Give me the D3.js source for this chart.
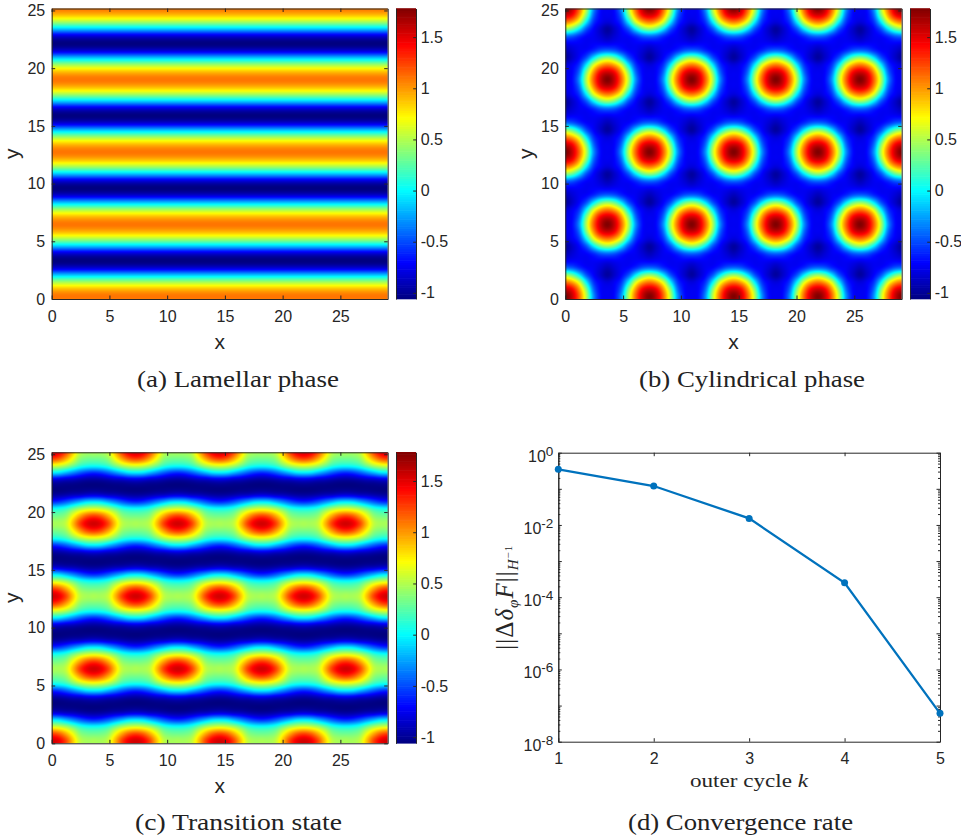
<!DOCTYPE html>
<html>
<head>
<meta charset="utf-8">
<script src="https://cdn.jsdelivr.net/npm/d3@7"></script>
<style>
  html, body { margin: 0; padding: 0; background: #fff; }
  svg { display: block; }
  .tick text { font-family: "Liberation Sans", Arial, sans-serif; font-size: 16px; fill: #262626; }
  .tick line, .domain { stroke: #262626; }
  .axisLabel { font-family: "Liberation Sans", Arial, sans-serif; font-size: 21px; fill: #262626; text-anchor: middle; }
  .mathLabel { font-family: "Liberation Serif", serif; fill: #262626; text-anchor: middle; }
  .caption { font-family: "Liberation Serif", serif; font-size: 23px; fill: #222; text-anchor: middle; }
</style>
</head>
<body>
<div id="chart"></div>
<script>
// Field values, one mirrored cell of the periodic pattern.
// Rows run y = 0 .. 6.28, columns x = 0 .. 3.64, the rest of the panel repeats it.
const lamellarValues = [1.10, 0.92, 0.48, -0.15, -0.82, -1.06, -0.82, -0.15, 0.48, 0.92, 1.10]

const cylindricalValues = [
  [1.78, 1.58, 1.14, 0.51, -0.28, -0.68, -0.74],
  [1.57, 1.44, 1.00, 0.37, -0.39, -0.70, -0.74],
  [1.10, 0.97, 0.61, -0.02, -0.55, -0.73, -0.80],
  [0.43, 0.30, -0.05, -0.47, -0.70, -0.85, -0.97],
  [-0.40, -0.45, -0.59, -0.70, -0.74, -0.82, -0.90],
  [-0.74, -0.72, -0.72, -0.74, -0.72, -0.72, -0.74],
  [-0.90, -0.82, -0.74, -0.70, -0.59, -0.45, -0.40],
  [-0.97, -0.85, -0.70, -0.47, -0.05, 0.30, 0.43],
  [-0.80, -0.73, -0.55, -0.02, 0.61, 0.97, 1.10],
  [-0.74, -0.70, -0.39, 0.37, 1.00, 1.44, 1.57],
  [-0.74, -0.68, -0.28, 0.51, 1.14, 1.58, 1.78]
]

const transitionValues = [
  [1.55, 1.48, 1.25, 0.88, 0.55, 0.47, 0.48],
  [1.28, 1.20, 0.98, 0.70, 0.42, 0.34, 0.33],
  [0.64, 0.60, 0.50, 0.33, 0.15, 0.07, 0.05],
  [-0.05, -0.08, -0.20, -0.33, -0.46, -0.56, -0.60],
  [-0.82, -0.84, -0.88, -0.90, -0.94, -0.97, -0.98],
  [-1.05, -1.05, -1.05, -1.05, -1.05, -1.05, -1.05],
  [-0.98, -0.97, -0.94, -0.90, -0.88, -0.84, -0.82],
  [-0.60, -0.56, -0.46, -0.33, -0.20, -0.08, -0.05],
  [0.05, 0.07, 0.15, 0.33, 0.50, 0.60, 0.64],
  [0.33, 0.34, 0.42, 0.70, 0.98, 1.20, 1.28],
  [0.48, 0.47, 0.55, 0.88, 1.25, 1.48, 1.55]
]

const xTicks = [0, 5, 10, 15, 20, 25]
const yTicks = [0, 5, 10, 15, 20, 25]
const colorTicks = [-1, -0.5, 0, 0.5, 1, 1.5]
const colorLimits = [-1.06, 1.78]

// Convergence panel
const outerCycles = [1, 2, 3, 4, 5]
const residuals = [0.346, 0.1195, 0.0152, 2.5e-4, 6.1e-8]
const residualExponents = [0, -2, -4, -6, -8]

const captions = ['(a) Lamellar phase', '(b) Cylindrical phase', '(c) Transition state', '(d) Convergence rate']

// MATLAB jet
const jetStops = [0, 1 / 8, 3 / 8, 5 / 8, 7 / 8, 1]
const jetColors = ['#000080', '#0000ff', '#00ffff', '#ffff00', '#ff0000', '#800000']

const xMax = 29.1
const yMax = 25.17
const cellHalfY = 6.283
const rowPhase = 0.15

const width = 961
const height = 840

const svg = d3.select('#chart').append('svg').attr('width', width).attr('height', height)

const jet = d3.scaleLinear()
  .domain(jetStops.map(s => colorLimits[0] + s * (colorLimits[1] - colorLimits[0])))
  .range(jetColors)
  .clamp(true)

// Folds a coordinate back into the mirrored cell
const fold = (v, half) => {
  const m = ((v % (2 * half)) + 2 * half) % (2 * half)
  return m <= half ? m : 2 * half - m
}

const catmull = (a, b, c, d, t) =>
  b + 0.5 * t * (c - a + t * (2 * a - 5 * b + 4 * c - d + t * (3 * (b - c) + d - a)))

// Same job as shading interp: smooth between the stored samples
const sampleCell = (cell, x, y) => {
  const rows = cell.length - 1
  const cols = cell[0].length - 1
  const gx = fold(x, xMax / 8) / (xMax / 8) * cols
  const gy = fold(y - rowPhase, cellHalfY) / cellHalfY * rows
  const ix = Math.min(Math.floor(gx), cols - 1)
  const iy = Math.min(Math.floor(gy), rows - 1)
  const mirror = (i, n) => (i < 0 ? -i : i > n ? 2 * n - i : i)
  const column = j => {
    const row = cell[mirror(j, rows)]
    return catmull(row[mirror(ix - 1, cols)], row[ix], row[ix + 1], row[mirror(ix + 2, cols)], gx - ix)
  }
  return catmull(column(iy - 1), column(iy), column(iy + 1), column(iy + 2), gy - iy)
}

const insideTick = 3.5

function drawField (box, cell, bar) {
  const x = d3.scaleLinear().domain([0, xMax]).range([box.left, box.right])
  const y = d3.scaleLinear().domain([0, yMax]).range([box.bottom, box.top])
  const w = Math.round(box.right - box.left)
  const h = Math.round(box.bottom - box.top)

  const canvas = document.createElement('canvas')
  canvas.width = w
  canvas.height = h
  const ctx = canvas.getContext('2d')
  const image = ctx.createImageData(w, h)
  for (let j = 0; j < h; j++) {
    for (let i = 0; i < w; i++) {
      const c = d3.rgb(jet(sampleCell(cell, x.invert(box.left + i + 0.5), y.invert(box.top + j + 0.5))))
      const p = (j * w + i) * 4
      image.data[p] = c.r
      image.data[p + 1] = c.g
      image.data[p + 2] = c.b
      image.data[p + 3] = 255
    }
  }
  ctx.putImageData(image, 0, 0)
  svg.append('image')
    .attr('x', box.left).attr('y', box.top)
    .attr('width', box.right - box.left).attr('height', box.bottom - box.top)
    .attr('preserveAspectRatio', 'none')
    .attr('href', canvas.toDataURL())

  const g = svg.append('g')
  g.append('g').attr('transform', `translate(0,${box.bottom})`)
    .call(d3.axisBottom(x).tickValues(xTicks).tickFormat(d3.format('d')).tickSize(-insideTick).tickSizeOuter(0).tickPadding(11.3))
  g.append('g').attr('transform', `translate(${box.left},0)`)
    .call(d3.axisLeft(y).tickValues(yTicks).tickFormat(d3.format('d')).tickSize(-insideTick).tickSizeOuter(0).tickPadding(6.5))
  g.append('g').attr('transform', `translate(0,${box.top})`)
    .call(d3.axisTop(x).tickValues(xTicks).tickFormat('').tickSize(-insideTick).tickSizeOuter(0))
  g.append('g').attr('transform', `translate(${box.right},0)`)
    .call(d3.axisRight(y).tickValues(yTicks).tickFormat('').tickSize(-insideTick).tickSizeOuter(0))

  g.append('text').attr('class', 'axisLabel')
    .attr('x', (box.left + box.right) / 2).attr('y', box.bottom + 50).text('x')
  g.append('text').attr('class', 'axisLabel')
    .attr('transform', `translate(${box.left - 32.5},${(box.top + box.bottom) / 2}) rotate(-90)`).text('y')

  // Colorbar
  const c = d3.scaleLinear().domain(colorLimits).range([box.bottom, box.top])
  const levels = d3.range(colorLimits[0], colorLimits[1], (colorLimits[1] - colorLimits[0]) / 128)
  const step = (box.bottom - box.top) / levels.length
  const cb = svg.append('g')
  cb.selectAll('rect').data(levels).join('rect')
    .attr('x', bar.left).attr('width', bar.right - bar.left)
    .attr('y', d => c(d) - step - 0.3).attr('height', step + 0.6)
    .attr('fill', d => jet(d + (colorLimits[1] - colorLimits[0]) / 256))
  cb.append('g').attr('transform', `translate(${bar.right},0)`)
    .call(d3.axisRight(c).tickValues(colorTicks).tickFormat(d => String(d)).tickSize(-insideTick * 0.8).tickSizeOuter(0).tickPadding(4.7))
  cb.append('g').attr('transform', `translate(${bar.left},0)`)
    .call(d3.axisLeft(c).tickValues([]).tickSize(0))
}

function drawConvergence (box) {
  const x = d3.scaleLinear().domain([1, 5]).range([box.left, box.right])
  const y = d3.scaleLog().domain([1e-8, 1]).range([box.bottom, box.top])
  const decades = residualExponents.concat([-1, -3, -5, -7])
  const minor = []
  decades.filter(e => e < 0).forEach(e => d3.range(2, 10).forEach(m => minor.push(m * Math.pow(10, e))))

  const g = svg.append('g')
  g.append('g').attr('transform', `translate(0,${box.bottom})`)
    .call(d3.axisBottom(x).tickValues(outerCycles).tickFormat(d3.format('d')).tickSize(-insideTick).tickSizeOuter(0).tickPadding(11))
  g.append('g').attr('transform', `translate(0,${box.top})`)
    .call(d3.axisTop(x).tickValues(outerCycles).tickFormat('').tickSize(-insideTick).tickSizeOuter(0))

  const majors = decades.map(e => Math.pow(10, e))
  const left = g.append('g').attr('transform', `translate(${box.left},0)`)
    .call(d3.axisLeft(y).tickValues(majors).tickFormat('').tickSize(-insideTick).tickSizeOuter(0))
  g.append('g').attr('transform', `translate(${box.right},0)`)
    .call(d3.axisRight(y).tickValues(majors).tickFormat('').tickSize(-insideTick).tickSizeOuter(0))
  g.append('g').attr('transform', `translate(${box.left},0)`)
    .call(d3.axisLeft(y).tickValues(minor).tickFormat('').tickSize(-2).tickSizeOuter(0))
  g.append('g').attr('transform', `translate(${box.right},0)`)
    .call(d3.axisRight(y).tickValues(minor).tickFormat('').tickSize(-2).tickSizeOuter(0))

  // 10^n labels
  residualExponents.forEach(e => {
    const t = left.append('text')
      .attr('x', -5).attr('y', y(Math.pow(10, e)) + 9)
      .attr('text-anchor', 'end').attr('fill', '#262626')
      .style('font-family', '"Liberation Sans", Arial, sans-serif').style('font-size', '16px')
    t.append('tspan').text('10')
    t.append('tspan').attr('dy', -6).style('font-size', '13.5px').text(e)
  })

  const line = d3.line().x((d, i) => x(outerCycles[i])).y(d => y(d))
  svg.append('path').datum(residuals)
    .attr('fill', 'none').attr('stroke', '#0072BD').attr('stroke-width', 2.3).attr('d', line)
  svg.selectAll('.dot').data(residuals).join('circle')
    .attr('class', 'dot')
    .attr('cx', (d, i) => x(outerCycles[i])).attr('cy', d => y(d)).attr('r', 3.5)
    .attr('fill', '#0072BD')

  // ||Δδ_φ F||_{H^-1}
  const yl = svg.append('text').attr('class', 'mathLabel')
    .attr('transform', `translate(513,${(box.top + box.bottom) / 2}) rotate(-90)`)
    .style('font-size', '25px')
    .style('letter-spacing', '1px')
  yl.append('tspan').text('||Δ')
  yl.append('tspan').style('font-style', 'italic').text('δ')
  yl.append('tspan').attr('dy', 5).style('font-size', '15px').style('font-style', 'italic').text('φ')
  yl.append('tspan').attr('dy', -5).style('font-style', 'italic').text('F')
  yl.append('tspan').text('||')
  yl.append('tspan').attr('dy', 5).style('font-size', '15px').style('font-style', 'italic').text('H')
  yl.append('tspan').attr('dy', -6).style('font-size', '11px').text('−1')

  const xl = svg.append('text').attr('class', 'mathLabel')
    .attr('x', 749).attr('y', 786.5)
    .attr('textLength', 118).attr('lengthAdjust', 'spacingAndGlyphs')
    .style('font-size', '19px')
  xl.append('tspan').text('outer cycle ')
  xl.append('tspan').style('font-style', 'italic').text('k')
}

drawField({ left: 51.7, right: 387.7, top: 8.5, bottom: 299 }, lamellarValues.map(v => [v, v]), { left: 396, right: 416 })
drawField({ left: 565.3, right: 901.7, top: 8.5, bottom: 299 }, cylindricalValues, { left: 910, right: 930 })
drawField({ left: 51.7, right: 387.7, top: 452.3, bottom: 743.3 }, transitionValues, { left: 396, right: 416 })
drawConvergence({ left: 558.3, right: 940, top: 452.7, bottom: 741.7 })

// Captions under the panels
const captionBoxes = [[238, 386.5, 202], [752, 386.5, 226], [238.5, 830, 207], [740.5, 830, 225]]
svg.selectAll('.caption').data(captions).join('text')
  .attr('class', 'caption')
  .attr('x', (d, i) => captionBoxes[i][0])
  .attr('y', (d, i) => captionBoxes[i][1])
  .attr('textLength', (d, i) => captionBoxes[i][2])
  .attr('lengthAdjust', 'spacingAndGlyphs')
  .text(d => d)
</script>
</body>
</html>
